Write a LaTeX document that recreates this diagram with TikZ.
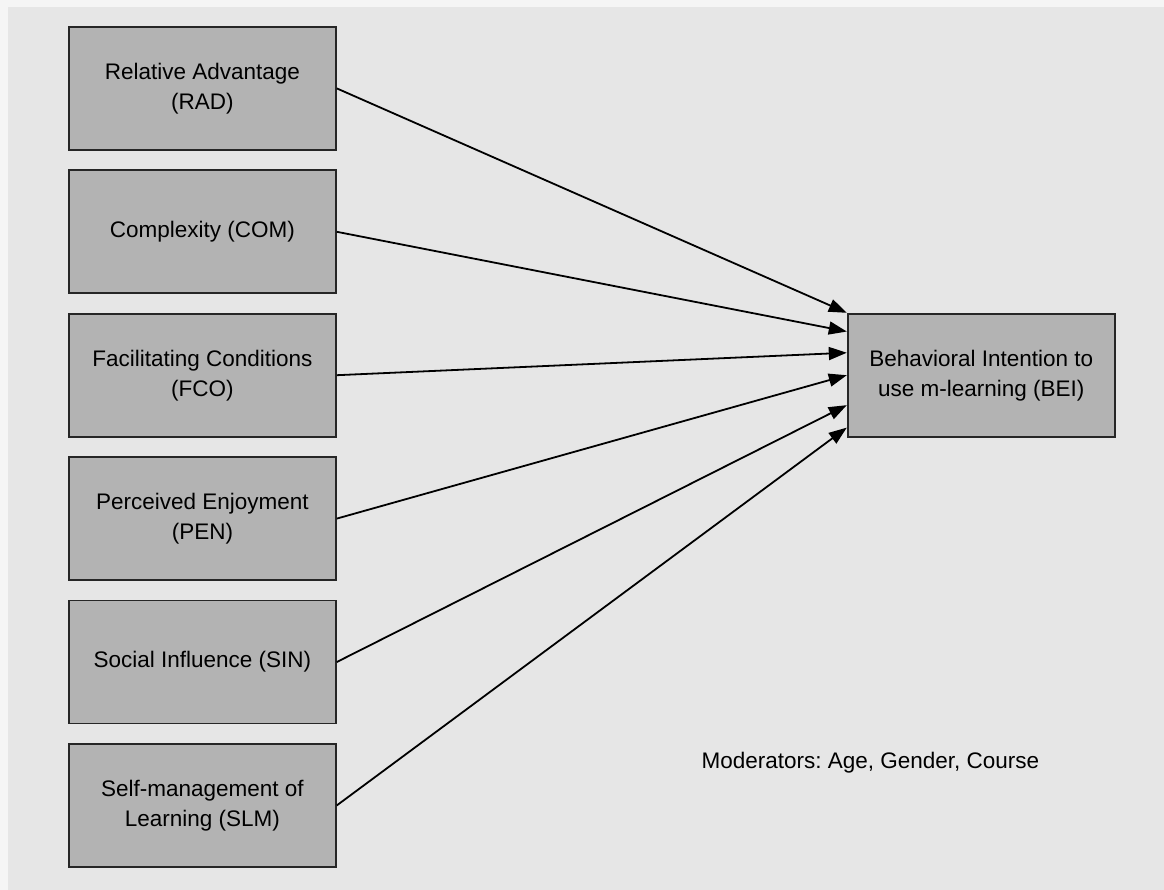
\documentclass[tikz,border=0pt]{standalone}
\usepackage{fontspec}
\setmainfont{Liberation Sans}
\usetikzlibrary{positioning,arrows.meta,calc}
\definecolor{bggray}{HTML}{E6E6E6}
\definecolor{boxgray}{HTML}{B3B3B3}
\frenchspacing

\begin{document}
\begin{tikzpicture}[x=1pt,y=-1pt,
  construct/.style={draw=black!85, line width=1.8pt, fill=boxgray,
    minimum width=267pt, minimum height=123pt, inner sep=0pt,
    align=center, font=\fontsize{22.5}{30}\selectfont},
  link/.style={line width=1.8pt, -{Triangle[length=18pt,width=13pt]}},
  node distance=18.6pt]

  % Background
  \useasboundingbox (0,0) rectangle (1164,890);
  \fill[white!96!black] (0,0) rectangle (1164,890);
  \fill[bggray] (8,7) rectangle (1164,890);

  % Define nodes
  \node[construct, anchor=north west] (rad) at (68,26) {Relative Advantage\\(RAD)};
  \node[construct, below=of rad] (com) {Complexity (COM)};
  \node[construct, below=of com] (fco) {Facilitating Conditions\\(FCO)};
  \node[construct, below=of fco] (pen) {Perceived Enjoyment\\(PEN)};
  \node[construct, below=of pen] (sin) {Social Influence (SIN)};
  \node[construct, below=of sin] (slm) {Self-management of\\Learning (SLM)};
  \node[construct, right=510pt of fco] (bei) {Behavioral Intention to\\use m-learning (BEI)};
  \node[anchor=base west, font=\fontsize{22.5}{27}\selectfont] (mod) at (698,768)
    {Moderators: Age, Gender, Course};

  % Connect the nodes
  \draw[link] (rad.east) -- ($(bei.north west)!0.0!(bei.south west)$);
  \draw[link] (com.east) -- ($(bei.north west)!0.15!(bei.south west)$);
  \draw[link] (fco.east) -- ($(bei.north west)!0.32!(bei.south west)$);
  \draw[link] (pen.east) -- ($(bei.north west)!0.5!(bei.south west)$);
  \draw[link] (sin.east) -- ($(bei.north west)!0.74!(bei.south west)$);
  \draw[link] (slm.east) -- ($(bei.north west)!0.92!(bei.south west)$);

\end{tikzpicture}
\end{document}
